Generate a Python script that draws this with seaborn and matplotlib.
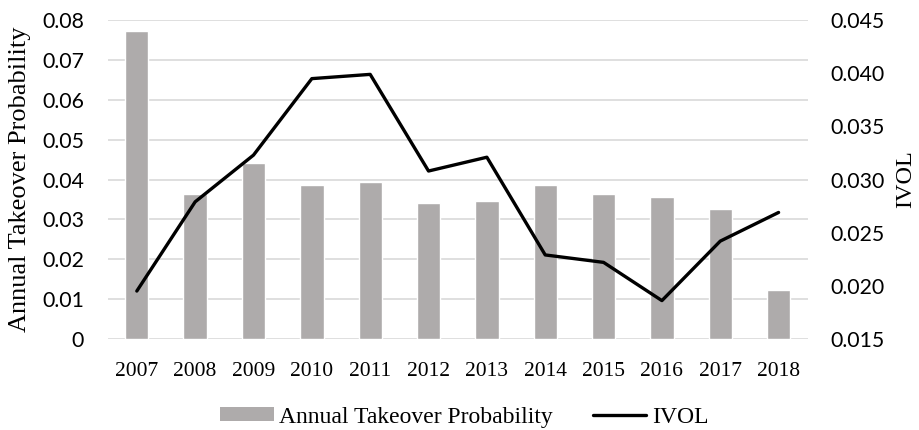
import matplotlib
matplotlib.use("Agg")
import matplotlib.pyplot as plt
import seaborn as sns
import pandas as pd
from matplotlib.patches import Patch
from matplotlib.lines import Line2D

years = ["2007", "2008", "2009", "2010", "2011", "2012",
         "2013", "2014", "2015", "2016", "2017", "2018"]
takeover_prob = [0.0774, 0.0363, 0.0442, 0.0385, 0.0393, 0.0342,
                 0.0345, 0.0385, 0.0363, 0.0357, 0.0327, 0.0123]
ivol = [0.0195, 0.0279, 0.0323, 0.0395, 0.0399, 0.0308,
        0.0321, 0.0229, 0.0222, 0.0186, 0.0242, 0.0269]

left_ticks = [0, 0.01, 0.02, 0.03, 0.04, 0.05, 0.06, 0.07, 0.08]
left_tick_labels = ["0", "0.01", "0.02", "0.03", "0.04", "0.05", "0.06", "0.07", "0.08"]
right_ticks = [0.015, 0.020, 0.025, 0.030, 0.035, 0.040, 0.045]
right_tick_labels = ["0.015", "0.020", "0.025", "0.030", "0.035", "0.040", "0.045"]

df = pd.DataFrame({"year": years, "prob": takeover_prob, "ivol": ivol})

sns.set_theme(style="white", rc={"text.color": "black",
                                 "axes.labelcolor": "black",
                                 "xtick.color": "black",
                                 "ytick.color": "black"})
sans_font = "Lato"
serif_font = "Liberation Serif"
bar_color = "#AEABAB"
grid_color = "#D9D9D9"
line_w = 2.4

fig = plt.figure(figsize=(9.2, 4.3), dpi=100)
ax = fig.add_axes([0.117, 0.212, 0.761, 0.741])

# bars: annual takeover probability on the left axis
sns.barplot(data=df, x="year", y="prob", color=bar_color, width=0.4,
            saturation=1, ax=ax, zorder=2)
ax.set_ylim(0, 0.08)
ax.set_yticks(left_ticks)
ax.set_yticklabels(left_tick_labels)
ax.yaxis.grid(True, color=grid_color, linewidth=1.2, zorder=0)
ax.set_axisbelow(True)
ax.set_xlim(-0.5, len(years) - 0.5)
ax.set_xlabel("")
ax.set_ylabel("Annual Takeover Probability", fontfamily=serif_font,
              fontsize=19, labelpad=8)
for s in ax.spines.values():
    s.set_visible(False)
ax.tick_params(axis="y", length=0, labelsize=15.3, pad=17)
ax.tick_params(axis="x", length=0, labelsize=15.5, pad=17)
for lbl in ax.get_yticklabels():
    lbl.set_fontfamily(sans_font)
for lbl in ax.get_xticklabels():
    lbl.set_fontfamily(serif_font)

# line: IVOL on the right axis
ax2 = ax.twinx()
sns.pointplot(data=df, x="year", y="ivol", color="black", markers="",
              linewidth=line_w, ax=ax2)
ax2.set_ylim(0.015, 0.045)
ax2.set_yticks(right_ticks)
ax2.set_yticklabels(right_tick_labels)
ax2.set_xlim(-0.5, len(years) - 0.5)
ax2.set_ylabel("IVOL", fontfamily=serif_font, fontsize=17.5, labelpad=8)
ax2.set_xlabel("")
for s in ax2.spines.values():
    s.set_visible(False)
ax2.tick_params(axis="y", length=0, labelsize=15.3, pad=16)
ax2.tick_params(axis="x", length=0, labelsize=15.5, pad=17)
for lbl in ax2.get_yticklabels():
    lbl.set_fontfamily(sans_font)
ax2.grid(False)

handles = [Patch(facecolor=bar_color, edgecolor="none"),
           Line2D([0], [0], color="black", linewidth=line_w)]
fig.legend(handles, ["Annual Takeover Probability", "IVOL"],
           loc="center", bbox_to_anchor=(0.505, 0.03), ncol=2, frameon=False,
           prop={"family": serif_font, "size": 17},
           handlelength=2.25, handleheight=0.5, columnspacing=1.7,
           handletextpad=0.25)

fig.savefig("out.png", dpi=100)
